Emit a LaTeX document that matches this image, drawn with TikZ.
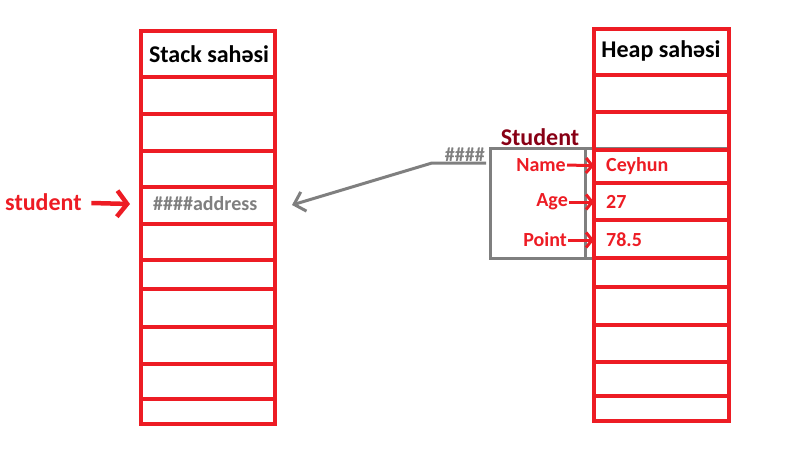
\documentclass[tikz,border=0pt]{standalone}
\usepackage{fontspec}
\setmainfont{Carlito}
\usetikzlibrary{arrows.meta}
\definecolor{paintred}{RGB}{237,28,36}
\definecolor{darkred}{RGB}{136,0,21}
\definecolor{paintgray}{RGB}{127,127,127}

\begin{document}
\begin{tikzpicture}[x=1pt,y=-1pt,
	redline/.style={draw=paintred,line width=4.5pt},
	grayline/.style={draw=paintgray,line width=3pt},
	bigtxt/.style={font=\fontsize{24}{28}\selectfont\bfseries,inner sep=1pt},
	smalltxt/.style={font=\fontsize{20}{24}\selectfont\bfseries,inner sep=1pt},
	fieldarrow/.style={draw=paintred,line width=3pt,-{Straight Barb[length=6pt,width=15pt]}},
	]

	\useasboundingbox (0,0) rectangle (787,472);

	% object box (under the heap)
	\draw[grayline] (728,148) -- (490,148) -- (490,258) -- (728,258);
	\draw[grayline] (585,148) -- (585,258);

	% stack
	\draw[redline] (141,31) rectangle (275,424);
	\foreach \y in {77,114,151,187,224,260,289,327,364,399}
		\draw[redline] (141,\y) -- (275,\y);

	% heap
	\draw[redline] (594,29) rectangle (729,421);
	\foreach \y in {75,112,150,183,220,258,287,325,362,396}
		\draw[redline] (594,\y) -- (729,\y);

	\node[bigtxt] (stackh) at (209,54) {Stack sahəsi};
	\node[bigtxt] (heaph) at (661,51) {Heap sahəsi};

	\node[bigtxt,text=paintred,anchor=west] (student) at (4,202) {student};
	\node[smalltxt,text=paintgray,anchor=west] (addr) at (152,204) {\#\#\#\#address};
	\coordinate (stackin) at (130,204);
	\draw[draw=paintred,line width=4.5pt,-{Straight Barb[length=10pt,width=26pt]}] (student) ++(48,1) -- (stackin);

	\node[bigtxt,text=darkred] (cls) at (540,137) {Student};
	\node[smalltxt,text=paintgray,anchor=south east] (hash) at (486,163) {\#\#\#\#};
	\coordinate (kink) at (432,163);
	\coordinate (addrtip) at (292,205);
	\draw[grayline,-{Straight Barb[length=10pt,width=20pt]}] (hash.south east) -- (kink) -- (addrtip);

	\node[smalltxt,text=paintred,anchor=east] (name) at (567,165) {Name};
	\node[smalltxt,text=paintred,anchor=east] (age) at (569,202) {Age};
	\node[smalltxt,text=paintred,anchor=east] (point) at (568,240) {Point};

	\node[smalltxt,text=paintred,anchor=west] (cey) at (605,166) {Ceyhun};
	\node[smalltxt,text=paintred,anchor=west] (yas) at (605,202) {27};
	\node[smalltxt,text=paintred,anchor=west] (bal) at (605,240) {78.5};

	\draw[fieldarrow,shorten >=11pt] (name.east) -- (cey.west);
	\draw[fieldarrow,shorten >=11pt] (age.east) -- (yas.west);
	\draw[fieldarrow,shorten >=11pt] (point.east) -- (bal.west);
\end{tikzpicture}
\end{document}
